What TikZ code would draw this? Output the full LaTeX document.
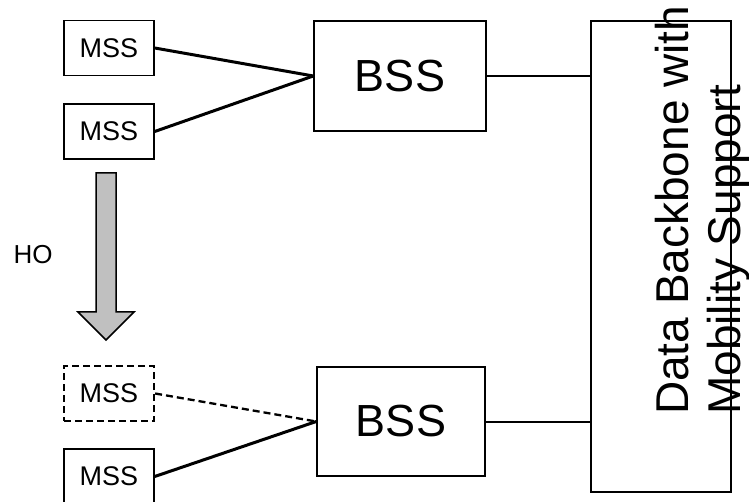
\documentclass[tikz,border=0pt]{standalone}
\usepackage{fontspec}
\setmainfont{Liberation Sans}
\usepackage{tikz}
\usetikzlibrary{arrows.meta}

\tikzset{
    mssbox/.style={draw, line width=1.5pt, minimum width=90pt, minimum height=55pt,
        inner sep=0pt, font=\fontsize{27}{31}\selectfont},
    bssbox/.style={draw, line width=1.5pt, inner sep=0pt, font=\fontsize{45}{52}\selectfont},
    radiolink/.style={line width=3pt},
    wirelink/.style={line width=2pt}
}

\begin{document}
\begin{tikzpicture}[x=1pt, y=-1pt]

    \useasboundingbox (0, 0) rectangle (749, 502);

    % mobile stations before the handover
    \node [mssbox] (mssa) at (109, 48) {MSS};
    \node [mssbox] (mssb) at (109, 131.5) {MSS};

    % mobile stations after the handover
    \node [mssbox, dash pattern=on 7pt off 4pt, line width=2.3pt] (mssc) at (109, 393.5) {MSS};
    \node [mssbox] (mssd) at (109, 476.5) {MSS};

    % base station subsystems
    \node [bssbox, minimum width=172pt, minimum height=110pt] (bssa) at (400, 76) {BSS};
    \node [bssbox, minimum width=168pt, minimum height=109pt] (bssb) at (401, 421.5) {BSS};

    % backbone
    \node [draw, line width=1.5pt, minimum width=140pt, minimum height=471pt, inner sep=0pt]
        (backbone) at (661, 256.5) {};
    \node [rotate=90, anchor=north west, inner sep=0pt, align=left,
        font=\fontsize{46}{52}\selectfont] (bbtext) at (655, 415)
        {Data Backbone with\\Mobility Support};

    % handover arrow
    \draw [line width=1.5pt, fill={rgb,255:red,192;green,192;blue,192}]
        (96, 173) -- (116, 173) -- (116, 312) -- (134, 312) -- (106, 340)
        -- (78, 312) -- (96, 312) -- cycle;
    \node [font=\fontsize{26}{30}\selectfont] (ho) at (33, 255) {HO};

    \draw [radiolink] (mssa.east) -- (bssa.west);
    \draw [radiolink] (mssb.east) -- (bssa.west);
    \draw [radiolink, dash pattern=on 7pt off 4pt, line width=2.3pt] (mssc.east) -- (bssb.west);
    \draw [radiolink] (mssd.east) -- (bssb.west);

    \draw [wirelink] (bssa.east) -- (bssa.east -| backbone.west);
    \draw [wirelink] (bssb.east) -- (bssb.east -| backbone.west);

\end{tikzpicture}
\end{document}
